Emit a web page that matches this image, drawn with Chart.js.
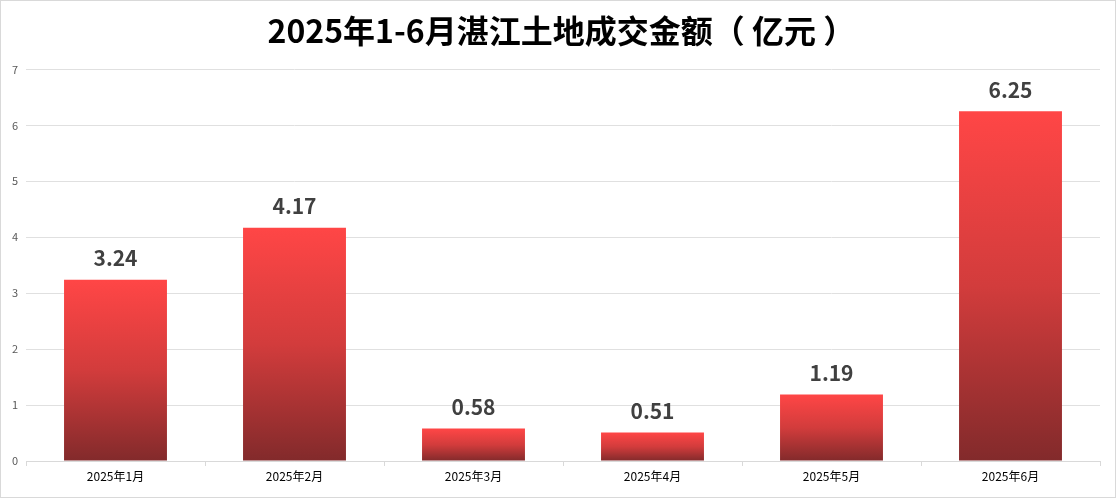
<!DOCTYPE html>
<html lang="zh">
<head>
  <meta charset="UTF-8">
  <title>2025年1-6月湛江土地成交金额</title>
  <script src="https://cdn.jsdelivr.net/npm/chart.js"></script>
  <style>
    html, body {
      margin: 0;
      padding: 0;
      background: #fff;
    }

    .frame {
      width: 1114px;
      height: 496px;
      border: 1px solid #d9d9d9;
      position: relative;
    }
  </style>
</head>
<body>
  <div class="frame">
    <canvas id="landChart" width="1114" height="496"></canvas>
  </div>

  <script>
    const months = ['2025年1月', '2025年2月', '2025年3月', '2025年4月', '2025年5月', '2025年6月'];
    const amounts = [3.24, 4.17, 0.58, 0.51, 1.19, 6.25];
    const yTicks = [0, 1, 2, 3, 4, 5, 6, 7];

    const cjk = '"Noto Sans CJK SC", "Noto Sans", sans-serif';

    // gradient per bar, from its own top down to the zero line
    function barGradient(context) {
      const chart = context.chart;
      const yScale = chart.scales.y;
      if (!chart.chartArea || !yScale || context.dataIndex === undefined) return '#e94343';
      const v = context.dataset.data[context.dataIndex];
      const top = yScale.getPixelForValue(v);
      const bottom = yScale.getPixelForValue(0);
      const g = chart.ctx.createLinearGradient(0, top, 0, bottom);
      g.addColorStop(0, '#ff4646');
      g.addColorStop(0.5, '#d23c3c');
      g.addColorStop(1, '#822a2b');
      return g;
    }

    // value labels above bars
    const valueLabels = {
      id: 'valueLabels',
      afterDatasetsDraw(chart) {
        const ctx = chart.ctx;
        const meta = chart.getDatasetMeta(0);
        ctx.save();
        ctx.font = 'bold 21px ' + cjk;
        ctx.fillStyle = '#404040';
        ctx.textAlign = 'center';
        ctx.textBaseline = 'bottom';
        meta.data.forEach((bar, i) => {
          ctx.fillText(amounts[i].toFixed(2), bar.x, bar.y - 11);
        });
        ctx.restore();
      }
    };

    new Chart(document.getElementById('landChart').getContext('2d'), {
      type: 'bar',
      data: {
        labels: months,
        datasets: [{
          label: '成交金额（亿元）',
          data: amounts,
          backgroundColor: barGradient,
          borderWidth: 0,
          categoryPercentage: 0.575,
          barPercentage: 1
        }]
      },
      options: {
        responsive: false,
        animation: false,
        layout: {
          padding: { left: 0, right: 15, top: 0, bottom: 0 }
        },
        plugins: {
          legend: { display: false },
          tooltip: { enabled: false },
          title: {
            display: true,
            text: '   2025年1-6月湛江土地成交金额（ 亿元 ）',
            color: '#000',
            font: { family: cjk, size: 32, weight: 'bold', lineHeight: 1.2 },
            padding: { top: 11, bottom: 19 }
          }
        },
        scales: {
          x: {
            grid: {
              display: true,
              drawOnChartArea: false,
              drawTicks: true,
              tickLength: 5,
              color: '#d9d9d9'
            },
            border: { display: true, color: '#d9d9d9' },
            ticks: {
              color: '#000',
              font: { family: cjk, size: 12 },
              padding: 3,
              maxRotation: 0
            },
            afterFit(scale) { scale.height = 36; }
          },
          y: {
            min: 0,
            max: 7,
            afterBuildTicks(scale) {
              scale.ticks = yTicks.map(v => ({ value: v }));
            },
            grid: {
              color: '#e0e0e0',
              drawTicks: false
            },
            border: { display: false },
            ticks: {
              color: '#595959',
              font: { family: cjk, size: 11 },
              padding: 8
            },
            afterFit(scale) { scale.width = 25; }
          }
        }
      },
      plugins: [valueLabels]
    });
  </script>
</body>
</html>
